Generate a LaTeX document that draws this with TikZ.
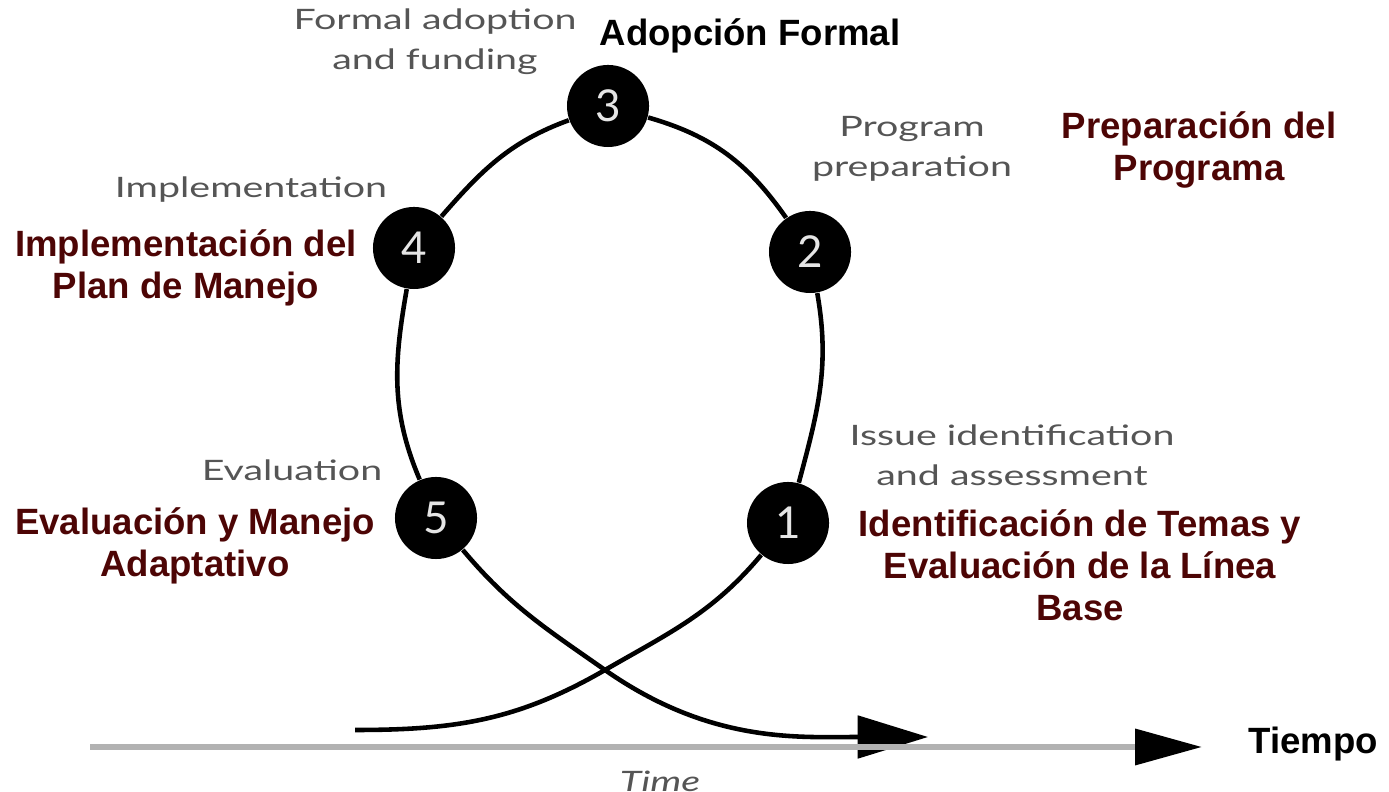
\documentclass[tikz,border=0pt]{standalone}
\usepackage{fontspec}
\setmainfont{Liberation Sans}
\newfontfamily\engfont[FakeStretch=1.4]{Lato}
\newfontfamily\digitfont{Lato}
\definecolor{Maroon}{HTML}{4D0505}
\definecolor{LabelGray}{HTML}{555555}
\usetikzlibrary{arrows.meta}

\begin{document}
\begin{tikzpicture}[x=0.01cm, y=0.01cm,
  stage/.style={circle, fill=black, minimum size=0.82cm, inner sep=0pt,
    text=gray!20, font=\digitfont\fontsize{12.5}{12.5}\selectfont},
  eng/.style={text=LabelGray, align=center, font=\engfont\fontsize{8}{11.4}\selectfont},
  esp/.style={text=Maroon, align=center, font=\bfseries\fontsize{10.4}{12}\selectfont},
  loopline/.style={line width=1.3pt},
  bigtip/.style={-{Triangle[length=20pt, width=12pt]}}]
  \useasboundingbox (0,0) rectangle (1389,792);
  % units: one pixel of the 1389x792 layout, y upwards
  \node[stage] (c3) at (608,686) {3};
  \node[stage] (c2) at (810,540) {2};
  \node[stage] (c4) at (414,544) {4};
  \node[stage] (c5) at (436,274) {5};
  \node[stage] (c1) at (788,269) {1};
  \coordinate (s) at (355,62);
  \coordinate (x) at (605,122);  % crossing of the two tails
  \coordinate (e) at (928,55);
  \coordinate (t0) at (90,45);
  \coordinate (t1) at (1202,45);

  % the loop
  \draw[loopline] (s) to[out=0, in=210] (x) to[out=30, in=230] (c1);
  \draw[loopline] (c1) to[out=75, in=-80] (c2);
  \draw[loopline] (c2) to[out=125, in=-16] (c3);
  \draw[loopline] (c3) to[out=200, in=49] (c4);
  \draw[loopline] (c4) to[out=260, in=113] (c5);
  \draw[loopline, bigtip] (c5) to[out=-50, in=145] (x) to[out=-35, in=180] (e);

  % time axis
  \draw[line width=1.7pt, gray!60, -{Triangle[length=19pt, width=10pt, black]}] (t0) -- (t1);
  \node[eng, font=\engfont\itshape\fontsize{8}{8}\selectfont] (time) at (660,11) {Time};
  \node[esp, text=black] (tiempo) at (1313,48) {Tiempo};

  % labels
  \node[eng] (formal) at (435,750) {Formal adoption\\and funding};
  \node[esp, text=black] (adopcion) at (750,756) {Adopción Formal};
  \node[eng] (program) at (912,643) {Program\\preparation};
  \node[esp] (preparacion) at (1199,642) {Preparación del\\Programa};
  \node[eng] (implementation) at (251,602) {Implementation};
  \node[esp] (implementacion) at (186,524) {Implementación del\\Plan de Manejo};
  \node[eng] (issue) at (1012,337) {Issue identification\\and assessment};
  \node[esp] (identificacion) at (1080,227) {Identificación de Temas y\\Evaluación de la Línea\\Base};
  \node[eng] (evaluation) at (292,322) {Evaluation};
  \node[esp] (evaluacion) at (195,246) {Evaluación y Manejo\\Adaptativo};
\end{tikzpicture}
\end{document}
